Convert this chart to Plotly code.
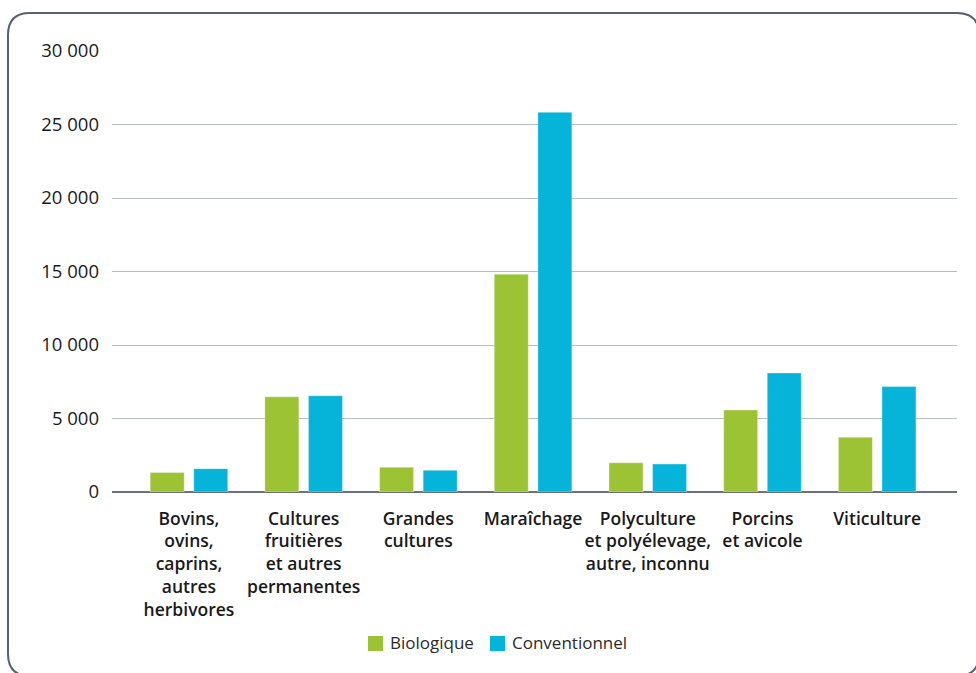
import plotly.graph_objects as go

# Categories and values (number of entries per type of production)
categories = [
    "Bovins,<br>ovins,<br>caprins,<br>autres<br>herbivores",
    "Cultures<br>fruitières<br>et autres<br>permanentes",
    "Grandes<br>cultures",
    "Maraîchage",
    "Polyculture<br>et polyélevage,<br>autre, inconnu",
    "Porcins<br>et avicole",
    "Viticulture",
]
biologique = [1320, 6480, 1680, 14820, 1990, 5580, 3720]
conventionnel = [1590, 6550, 1480, 25830, 1900, 8100, 7170]
y_ticks = [0, 5000, 10000, 15000, 20000, 25000, 30000]

GREEN = "#9cc333"
BLUE = "#07b4d9"
FONT = "Open Sans"

W, H = 976, 673
L, R, T, B = 112, 19, 51, 181

fig = go.Figure()
fig.add_trace(go.Bar(x=categories, y=biologique, name="Biologique",
                     marker=dict(color=GREEN, line=dict(color="rgba(255,255,255,0.35)", width=1)),
                     showlegend=False))
fig.add_trace(go.Bar(x=categories, y=conventionnel, name="Conventionnel",
                     marker=dict(color=BLUE, line=dict(color="rgba(255,255,255,0.35)", width=1)),
                     showlegend=False))

pw, ph = W - L - R, H - T - B


def px_to_paper(x, y):
    return (x - L) / pw, (H - B - y) / ph


def P(x, y):
    a, b = px_to_paper(x, y)
    return f"{a:.5f},{b:.5f}"


# rounded frame around the whole chart
x0, y0, x1, y1, rad = 8, 13, 979, 676, 22
path = (f"M{P(x0 + rad, y0)} L{P(x1 - rad, y0)} Q{P(x1, y0)} {P(x1, y0 + rad)} "
        f"L{P(x1, y1 - rad)} Q{P(x1, y1)} {P(x1 - rad, y1)} "
        f"L{P(x0 + rad, y1)} Q{P(x0, y1)} {P(x0, y1 - rad)} "
        f"L{P(x0, y0 + rad)} Q{P(x0, y0)} {P(x0 + rad, y0)} Z")
fig.add_shape(type="path", path=path, xref="paper", yref="paper",
              line=dict(color="#586072", width=2), layer="below")

# legend drawn as swatches + labels
legend_items = [("Biologique", GREEN, 368), ("Conventionnel", BLUE, 490)]
for name, color, lx in legend_items:
    ax0, ay0 = px_to_paper(lx, 636)
    ax1, ay1 = px_to_paper(lx + 15, 651)
    fig.add_shape(type="rect", xref="paper", yref="paper",
                  x0=ax0, x1=ax1, y0=ay1, y1=ay0, fillcolor=color, line_width=0)
    tx, ty = px_to_paper(lx + 20, 643)
    fig.add_annotation(x=tx, y=ty, xref="paper", yref="paper", text=name,
                       showarrow=False, xanchor="left", yanchor="middle",
                       font=dict(family=FONT, size=17, color="#2b2b2b"))

fig.update_layout(
    width=W, height=H,
    margin=dict(l=L, r=R, t=T, b=B, pad=0),
    paper_bgcolor="white", plot_bgcolor="white",
    separators=", ",
    bargap=0.24, bargroupgap=0.22,
    font=dict(family=FONT, color="#1a1a1a"),
)
fig.update_xaxes(
    range=[-0.671, 6.696], showgrid=False, ticks="",
    tickfont=dict(family=FONT, size=17.5, color="#1a1a1a", weight=600),
    showline=False, zeroline=False, ticklabelstandoff=14,
)
fig.update_yaxes(
    range=[0, 30000], tickvals=y_ticks, tickformat=",d",
    showgrid=True, gridcolor="#b7bbc7", gridwidth=1.3,
    zeroline=True, zerolinecolor="#6b7180", zerolinewidth=2.2,
    showline=False, ticks="", ticklabelstandoff=12,
    tickfont=dict(family=FONT, size=18.5, color="#1a1a1a", weight=500),
)

fig.write_html("out.html")
